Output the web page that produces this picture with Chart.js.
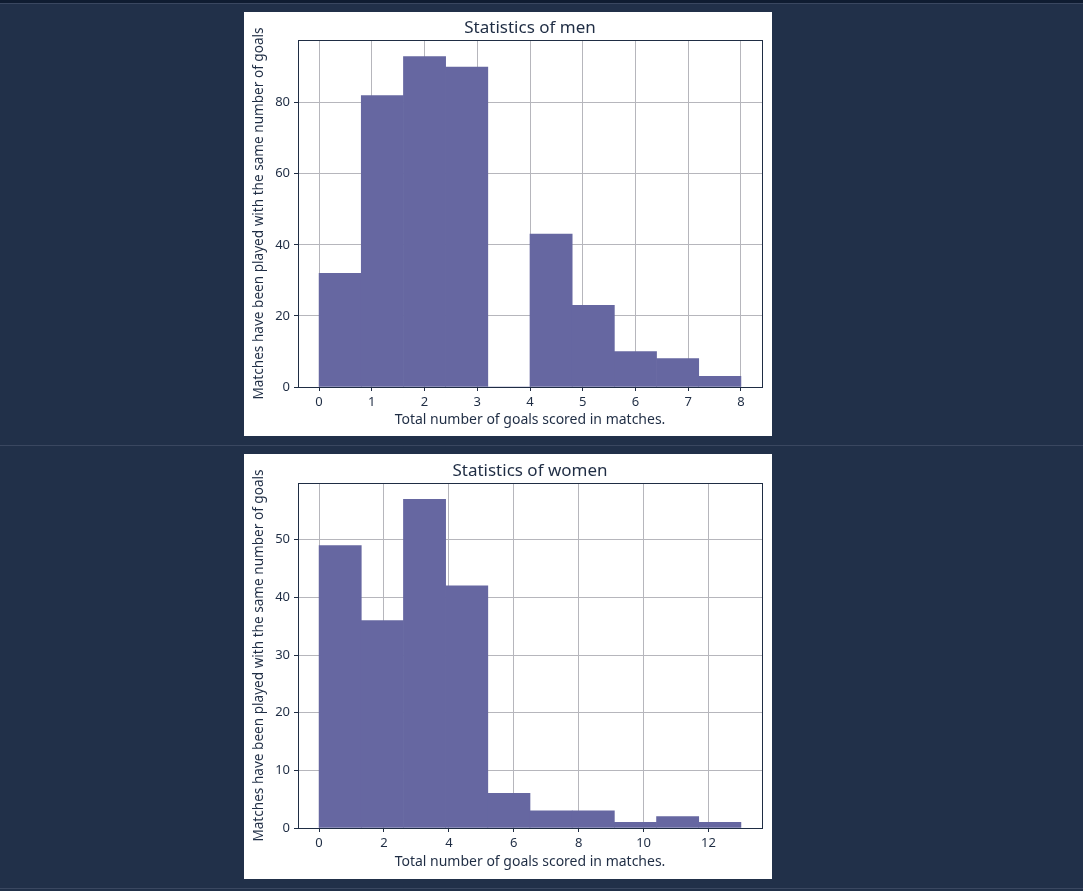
<!DOCTYPE html>
<html><head><meta charset="utf-8">
<script src="https://cdn.jsdelivr.net/npm/chart.js@4.4.1/dist/chart.umd.min.js"></script>
<style>
html,body{margin:0;padding:0;background:#213049;width:1083px;height:891px;overflow:hidden;position:relative;}
.band{position:absolute;left:0;width:1083px;}
.panel{position:absolute;left:244px;width:528px;background:#fff;}
canvas{display:block;}
</style></head><body>
<div class="band" style="top:0;height:3px;background:#0f1c31"></div>
<div class="band" style="top:3px;height:1px;background:#3a4760"></div>
<div class="band" style="top:445px;height:1px;background:#3a4760"></div>
<div class="band" style="top:888px;height:1px;background:#3a4760"></div>
<div class="panel" style="top:12px;height:424px"><canvas id="men" width="528" height="424"></canvas></div>
<div class="panel" style="top:454px;height:425px"><canvas id="women" width="528" height="425"></canvas></div>
<script>
// ---- data ----
const menBinEdges = [0, 0.8, 1.6, 2.4, 3.2, 4.0, 4.8, 5.6, 6.4, 7.2, 8.0];
const menCounts = [32, 82, 93, 90, 0, 43, 23, 10, 8, 3];
const menXTicks = [0, 1, 2, 3, 4, 5, 6, 7, 8];
const menYTicks = [0, 20, 40, 60, 80];
const menXRange = [-0.4, 8.4];
const menYMax = 97.65;

const womenBinEdges = [0, 1.3, 2.6, 3.9, 5.2, 6.5, 7.8, 9.1, 10.4, 11.7, 13.0];
const womenCounts = [49, 36, 57, 42, 6, 3, 3, 1, 2, 1];
const womenXTicks = [0, 2, 4, 6, 8, 10, 12];
const womenYTicks = [0, 10, 20, 30, 40, 50];
const womenXRange = [-0.65, 13.65];
const womenYMax = 59.85;

const xLabel = 'Total number of goals scored in matches.';
const yLabel = 'Matches have been played with the same number of goals';

// ---- style ----
const NAVY = '#1f2d44';
const BAR = '#6667a1';
const GRID = '#b6b6bc';
const FONT = '"Noto Sans", sans-serif';

const framePlugin = {
  id: 'frame',
  afterDraw(chart, args, opts) {
    const {ctx, chartArea: a} = chart;
    ctx.save();
    ctx.strokeStyle = NAVY;
    ctx.lineWidth = 1;
    ctx.strokeRect(a.left + 0.5, a.top + 0.5, a.right - a.left, a.bottom - a.top);
    ctx.fillStyle = NAVY;
    ctx.font = '17px ' + FONT;
    ctx.textAlign = 'center';
    ctx.textBaseline = 'middle';
    ctx.fillText(opts.text, (a.left + a.right) / 2, a.top - 12);
    ctx.restore();
  }
};

function makeChart(id, edges, counts, xTicks, yTicks, xRange, yMax, title, lay) {
  const data = counts.map((c, i) => ({x: (edges[i] + edges[i + 1]) / 2, y: c}));
  return new Chart(document.getElementById(id), {
    type: 'bar',
    data: { datasets: [{ data, backgroundColor: BAR, borderWidth: 0,
      barPercentage: 1, categoryPercentage: 1 }] },
    options: {
      responsive: false, animation: false,
      layout: { padding: { left: 0, top: lay.top, right: 10, bottom: 0 } },
      plugins: { legend: {display: false}, tooltip: {enabled: false}, title: {display: false},
        frame: { text: title } },
      scales: {
        x: {
          type: 'linear', min: xRange[0], max: xRange[1], offset: false, z: 1,
          afterBuildTicks: s => { s.ticks = xTicks.map(v => ({value: v})); },
          afterFit: s => { s.height = lay.xh; },
          grid: { offset: false, color: GRID, lineWidth: 1, drawTicks: true, tickLength: 4,
            tickColor: NAVY, tickWidth: 1 },
          border: { display: false },
          ticks: { color: NAVY, font: {family: FONT, size: 13}, padding: 3, maxRotation: 0,
            autoSkip: false, callback: v => String(v) },
          title: { display: true, text: xLabel, color: NAVY, font: {family: FONT, size: 14},
            padding: {top: 0, bottom: lay.xtp} }
        },
        y: {
          min: 0, max: yMax, z: 1,
          afterBuildTicks: s => { s.ticks = yTicks.map(v => ({value: v})); },
          afterFit: s => { s.width = 54; },
          grid: { color: GRID, lineWidth: 1, drawTicks: true, tickLength: 4,
            tickColor: NAVY, tickWidth: 1 },
          border: { display: false },
          ticks: { color: NAVY, font: {family: FONT, size: 13}, padding: 4,
            autoSkip: false, callback: v => String(v) },
          title: { display: true, text: yLabel, color: NAVY, font: {family: FONT, size: 13.6},
            padding: {top: 7, bottom: 0} }
        }
      }
    },
    plugins: [framePlugin]
  });
}

makeChart('men', menBinEdges, menCounts, menXTicks, menYTicks, menXRange, menYMax,
  'Statistics of men', {top: 28, xh: 49, xtp: 8});
makeChart('women', womenBinEdges, womenCounts, womenXTicks, womenYTicks, womenXRange, womenYMax,
  'Statistics of women', {top: 29, xh: 51, xtp: 9});
</script>
</body></html>
